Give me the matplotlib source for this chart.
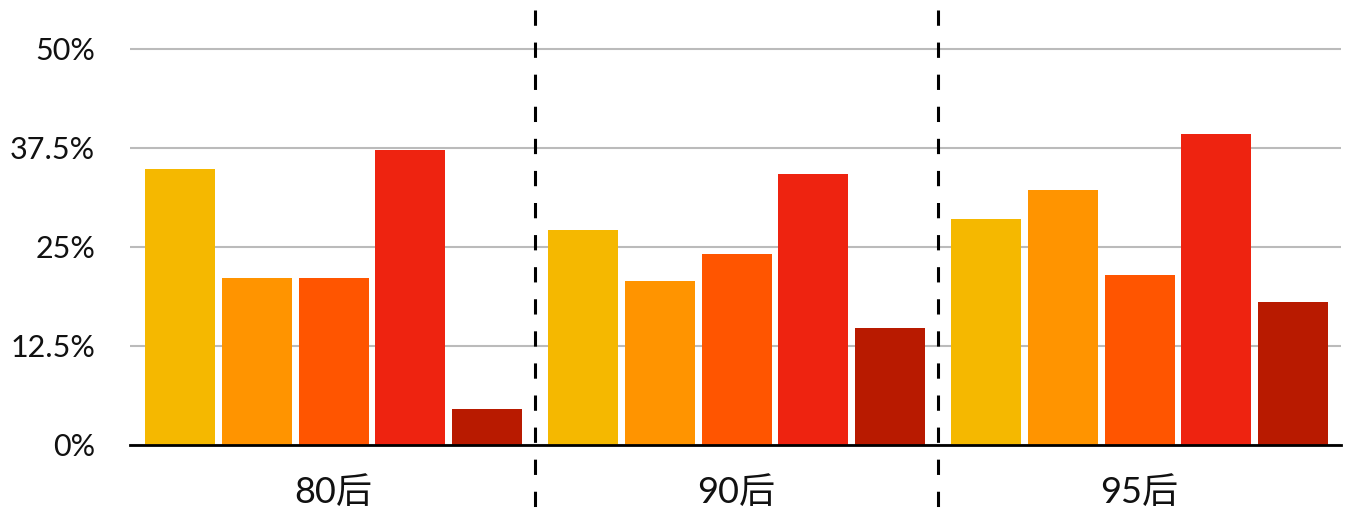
import matplotlib
matplotlib.use("Agg")
import matplotlib.pyplot as plt
import matplotlib.transforms as mtrans
from matplotlib.lines import Line2D
import numpy as np

groups = ["80后", "90后", "95后"]
s1 = [34.8, 27.1, 28.5]
s2 = [21.1, 20.7, 32.2]
s3 = [21.1, 24.1, 21.5]
s4 = [37.2, 34.2, 39.3]
s5 = [4.5, 14.8, 18.1]
colors = ["#F5B800", "#FF9400", "#FF5500", "#EE2310", "#B81A00"]
yticks = [0, 12.5, 25, 37.5, 50]
ytick_labels = ["0%", "12.5%", "25%", "37.5%", "50%"]

plt.rcParams['font.family'] = ['Lato', 'Noto Sans CJK SC', 'DejaVu Sans']

fig = plt.figure(figsize=(13.48, 5.16), dpi=100)
ax = fig.add_axes([130 / 1348, 71 / 516, 1211 / 1348, 412 / 516])

x = np.arange(len(groups))
step = 0.191
width = 0.1737
for i, (vals, c) in enumerate(zip([s1, s2, s3, s4, s5], colors)):
    ax.bar(x + (i - 2) * step, vals, width, color=c, zorder=3)

ax.set_xlim(-0.505, 2.5)
ax.set_ylim(0, 52)
ax.set_yticks(yticks)
ax.set_yticklabels(ytick_labels)
ax.set_xticks(x)
ax.set_xticklabels(groups)
ax.tick_params(axis="y", length=0, pad=25, labelsize=22, labelcolor="#111111")
ax.tick_params(axis="x", length=0, pad=22, labelsize=26, labelcolor="#111111")
ax.grid(axis="y", color="#BBBBBB", linewidth=1.5, zorder=0)
ax.grid(axis="x", visible=False)

for s in ["top", "right", "left"]:
    ax.spines[s].set_visible(False)
ax.spines["bottom"].set_color("black")
ax.spines["bottom"].set_linewidth(2)
ax.spines["bottom"].set_zorder(4)

# group separators
tr = mtrans.blended_transform_factory(ax.transData, fig.transFigure)
for xs in [0.5, 1.5]:
    fig.add_artist(Line2D([xs, xs], [1 - 10 / 516, 0], transform=tr,
                          color="black", linewidth=2.2,
                          dashes=(5, 5.5), zorder=5))

fig.savefig("out.png", dpi=100)
